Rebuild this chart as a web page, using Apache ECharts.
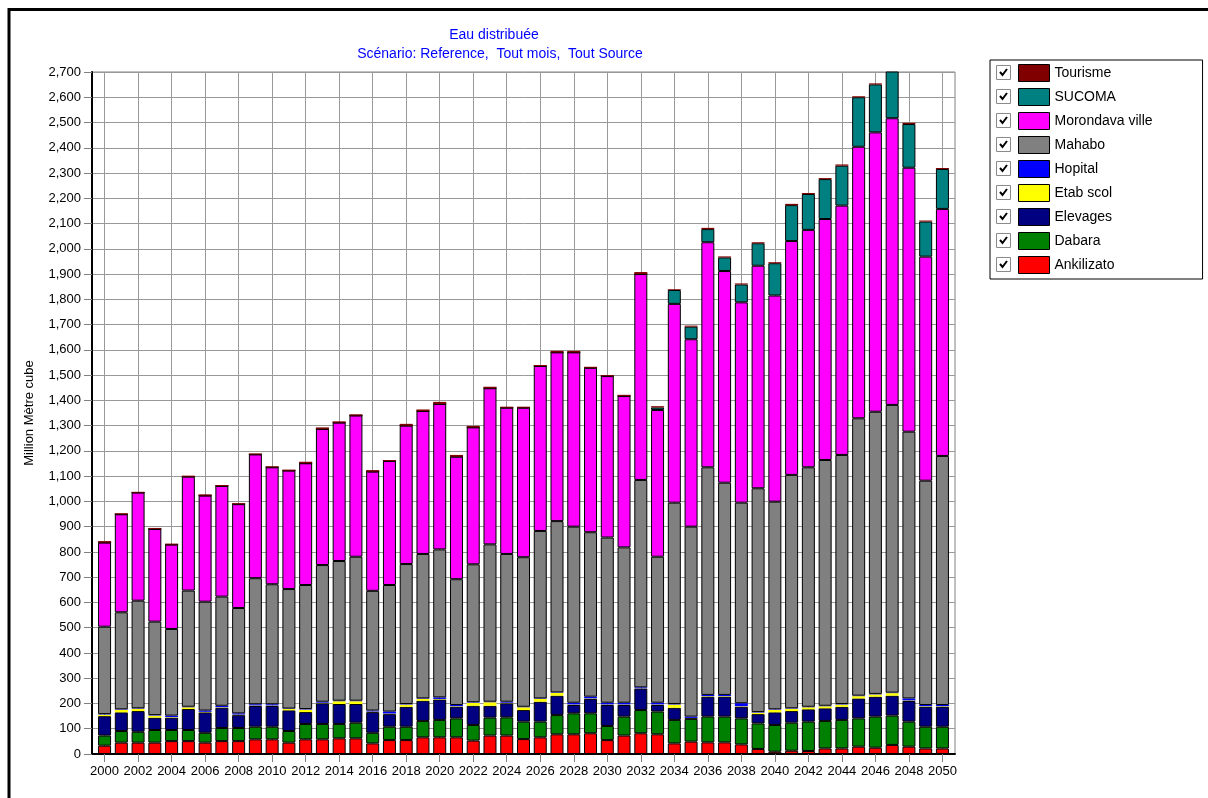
<!DOCTYPE html>
<html>
<head>
<meta charset="utf-8">
<script src="https://cdn.jsdelivr.net/npm/echarts@6/dist/echarts.min.js"></script>
<style>
  html, body { margin: 0; padding: 0; background: #ffffff; }
  #chart { width: 1208px; height: 798px; }
</style>
</head>
<body>
<div id="chart"></div>
<script>
// Years on the horizontal axis
const years = [2000, 2001, 2002, 2003, 2004, 2005, 2006, 2007, 2008, 2009,
  2010, 2011, 2012, 2013, 2014, 2015, 2016, 2017, 2018, 2019,
  2020, 2021, 2022, 2023, 2024, 2025, 2026, 2027, 2028, 2029,
  2030, 2031, 2032, 2033, 2034, 2035, 2036, 2037, 2038, 2039,
  2040, 2041, 2042, 2043, 2044, 2045, 2046, 2047, 2048, 2049, 2050];

// Labelled years on the horizontal axis
const yearTicks = [2000, 2002, 2004, 2006, 2008, 2010, 2012, 2014, 2016, 2018,
  2020, 2022, 2024, 2026, 2028, 2030, 2032, 2034, 2036, 2038,
  2040, 2042, 2044, 2046, 2048, 2050];

// Distributed water per demand site (million m3), stacked bottom to top
const ankilizato = [33, 45, 45, 45, 51, 51, 45, 51, 51, 58,
  58, 45, 58, 58, 62, 62, 42, 55, 55, 66,
  66, 66, 53, 73, 73, 59, 66, 78, 78, 82,
  55, 73, 82, 78, 42, 49, 46, 46, 38, 20,
  9, 13, 12, 22, 22, 29, 25, 36, 29, 22, 22];

const dabara = [40, 46, 43, 50, 44, 44, 39, 52, 52, 50,
  50, 46, 61, 61, 57, 62, 42, 53, 53, 65,
  69, 75, 62, 71, 72, 69, 62, 76, 83, 79,
  56, 75, 92, 90, 93, 90, 102, 102, 103, 101,
  106, 111, 116, 109, 113, 112, 123, 116, 99, 86, 86];

const elevages = [77, 74, 82, 49, 49, 83, 81, 80, 51, 82,
  82, 82, 47, 82, 79, 74, 82, 50, 79, 80,
  81, 46, 76, 47, 56, 46, 79, 77, 33, 57,
  83, 46, 85, 26, 48, 3, 79, 79, 46, 37,
  50, 46, 49, 50, 52, 79, 79, 79, 82, 79, 79];

const etabScol = [6, 10, 9, 8, 2, 7, 2, 2, 2, 2,
  2, 5, 10, 2, 11, 11, 2, 2, 9, 7,
  2, 2, 12, 14, 2, 11, 11, 11, 2, 2,
  2, 2, 1, 2, 13, 1, 2, 2, 2, 6,
  10, 9, 8, 8, 9, 9, 9, 10, 2, 2, 2];

const hopital = [2, 2, 2, 2, 6, 2, 5, 6, 5, 5,
  5, 2, 2, 4, 2, 2, 4, 8, 2, 2,
  6, 5, 2, 2, 4, 2, 2, 2, 7, 7,
  7, 7, 4, 7, 2, 5, 5, 5, 12, 2,
  2, 2, 2, 2, 2, 2, 2, 2, 8, 5, 5];

const mahabo = [346, 384, 426, 370, 343, 460, 431, 432, 417, 499,
  475, 473, 491, 541, 553, 570, 474, 501, 554, 572,
  586, 498, 546, 623, 585, 592, 663, 678, 697, 651,
  654, 615, 821, 578, 797, 752, 901, 840, 794, 886,
  822, 924, 948, 973, 986, 1098, 1117, 1139, 1056, 888, 986];

const morondavaVille = [333, 388, 428, 367, 334, 451, 420, 438, 411, 490,
  463, 469, 482, 539, 548, 559, 472, 491, 548, 566,
  576, 485, 542, 618, 579, 592, 653, 668, 690, 651,
  639, 599, 815, 581, 787, 742, 891, 838, 793, 881,
  816, 926, 940, 954, 987, 1075, 1106, 1135, 1045, 887, 978];

const sucoma = [0, 0, 0, 0, 0, 0, 0, 0, 0, 0,
  0, 0, 0, 0, 0, 0, 0, 0, 0, 0,
  0, 0, 0, 0, 0, 0, 0, 0, 0, 0,
  0, 0, 0, 10, 55, 50, 52, 54, 71, 89,
  128, 142, 142, 158, 158, 196, 190, 188, 173, 139, 158];

const tourisme = [6, 4, 3, 4, 4, 4, 5, 4, 4, 4,
  4, 4, 6, 6, 5, 5, 6, 4, 7, 6,
  8, 7, 6, 6, 4, 4, 4, 6, 6, 4,
  4, 5, 8, 5, 3, 4, 5, 4, 4, 4,
  4, 5, 4, 4, 5, 4, 4, 6, 5, 4, 4];

// Stack order (bottom first) with the usual palette of each site;
// the thin layers are drawn without an outline so their colour stays visible
const stackOrder = [
  { name: 'Ankilizato', values: ankilizato, color: '#ff0000', outline: 1 },
  { name: 'Dabara', values: dabara, color: '#008000', outline: 1 },
  { name: 'Elevages', values: elevages, color: '#000080', outline: 1 },
  { name: 'Etab scol', values: etabScol, color: '#ffff00', outline: 0 },
  { name: 'Hopital', values: hopital, color: '#0000ff', outline: 0 },
  { name: 'Mahabo', values: mahabo, color: '#808080', outline: 1 },
  { name: 'Morondava ville', values: morondavaVille, color: '#ff00ff', outline: 1 },
  { name: 'SUCOMA', values: sucoma, color: '#008080', outline: 1 },
  { name: 'Tourisme', values: tourisme, color: '#800000', outline: 0 }
];

const legendOrder = stackOrder.map(s => s.name).reverse();

const FONT = '"Liberation Sans", Arial, sans-serif';

// The value comes first in each pair so that it is the stacked dimension;
// the year is mapped onto the horizontal axis through encode.
const series = stackOrder.map(s => ({
  name: s.name,
  type: 'bar',
  stack: 'total',
  barWidth: 13,
  data: years.map((y, i) => [s.values[i], y]),
  encode: { x: 1, y: 0 },
  itemStyle: { color: s.color, borderColor: '#000000', borderWidth: s.outline },
  emphasis: { disabled: true }
}));

// Check boxes beside each legend entry
const checkBoxes = [];
legendOrder.forEach((name, i) => {
  const top = 65 + i * 24;
  checkBoxes.push({
    type: 'rect',
    shape: { x: 996.5, y: top + 0.5, width: 14, height: 14 },
    style: { fill: '#ffffff', stroke: '#8a8a8a', lineWidth: 1 },
    z: 100
  });
  checkBoxes.push({
    type: 'polyline',
    shape: { points: [[1000, top + 7], [1002.5, top + 10], [1007, top + 4]] },
    style: { fill: null, stroke: '#000000', lineWidth: 2 },
    z: 101
  });
});

const chart = echarts.init(document.getElementById('chart'), null, { renderer: 'canvas' });

chart.setOption({
  animation: false,
  backgroundColor: '#ffffff',
  textStyle: { fontFamily: FONT },
  title: [
    {
      text: 'Eau distribuée',
      left: 489, top: 23, textAlign: 'center',
      textStyle: { color: '#0000ff', fontSize: 14, fontWeight: 'normal', fontFamily: FONT }
    },
    {
      text: 'Scénario: Reference,  Tout mois,  Tout Source',
      left: 495, top: 42, textAlign: 'center',
      textStyle: { color: '#0000ff', fontSize: 14, fontWeight: 'normal', fontFamily: FONT }
    }
  ],
  legend: {
    orient: 'vertical',
    left: 990, top: 60,
    padding: [4, 50, 5, 28],
    itemWidth: 31, itemHeight: 17, itemGap: 6,
    borderColor: '#000000', borderWidth: 1,
    selectedMode: false,
    icon: 'rect',
    data: legendOrder,
    itemStyle: { borderColor: '#000000', borderWidth: 1 },
    textStyle: { fontSize: 14, color: '#000000', fontFamily: FONT }
  },
  grid: {
    left: 92, right: 253, top: 72, bottom: 44,
    show: true, borderColor: '#808080', borderWidth: 1
  },
  xAxis: {
    type: 'value',
    min: 1999.25, max: 2050.75,
    axisLine: { show: true, onZero: false, lineStyle: { color: '#000000', width: 2 } },
    axisTick: { show: true, customValues: yearTicks, length: 8, lineStyle: { color: '#808080' } },
    axisLabel: {
      customValues: yearTicks, color: '#000000', fontSize: 13, margin: 11,
      fontFamily: FONT, formatter: v => String(v)
    },
    splitLine: { show: true, lineStyle: { color: '#999999', width: 1 } }
  },
  yAxis: {
    type: 'value',
    min: 0, max: 2700, interval: 100,
    name: 'Million Mètre cube',
    nameLocation: 'middle', nameGap: 56,
    nameTextStyle: { color: '#000000', fontSize: 13, fontFamily: FONT },
    axisLine: { show: true, lineStyle: { color: '#000000', width: 2 } },
    axisTick: { show: true, length: 8, lineStyle: { color: '#808080' } },
    axisLabel: {
      color: '#000000', fontSize: 13, margin: 11, fontFamily: FONT,
      formatter: v => v.toLocaleString('en-US')
    },
    splitLine: { show: true, lineStyle: { color: '#999999', width: 1 } }
  },
  graphic: [
    {
      type: 'rect',
      shape: { x: 9, y: 9.5, width: 1300, height: 900 },
      style: { fill: null, stroke: '#000000', lineWidth: 3 },
      silent: true, z: 100
    }
  ].concat(checkBoxes),
  series: series
});
</script>
</body>
</html>
